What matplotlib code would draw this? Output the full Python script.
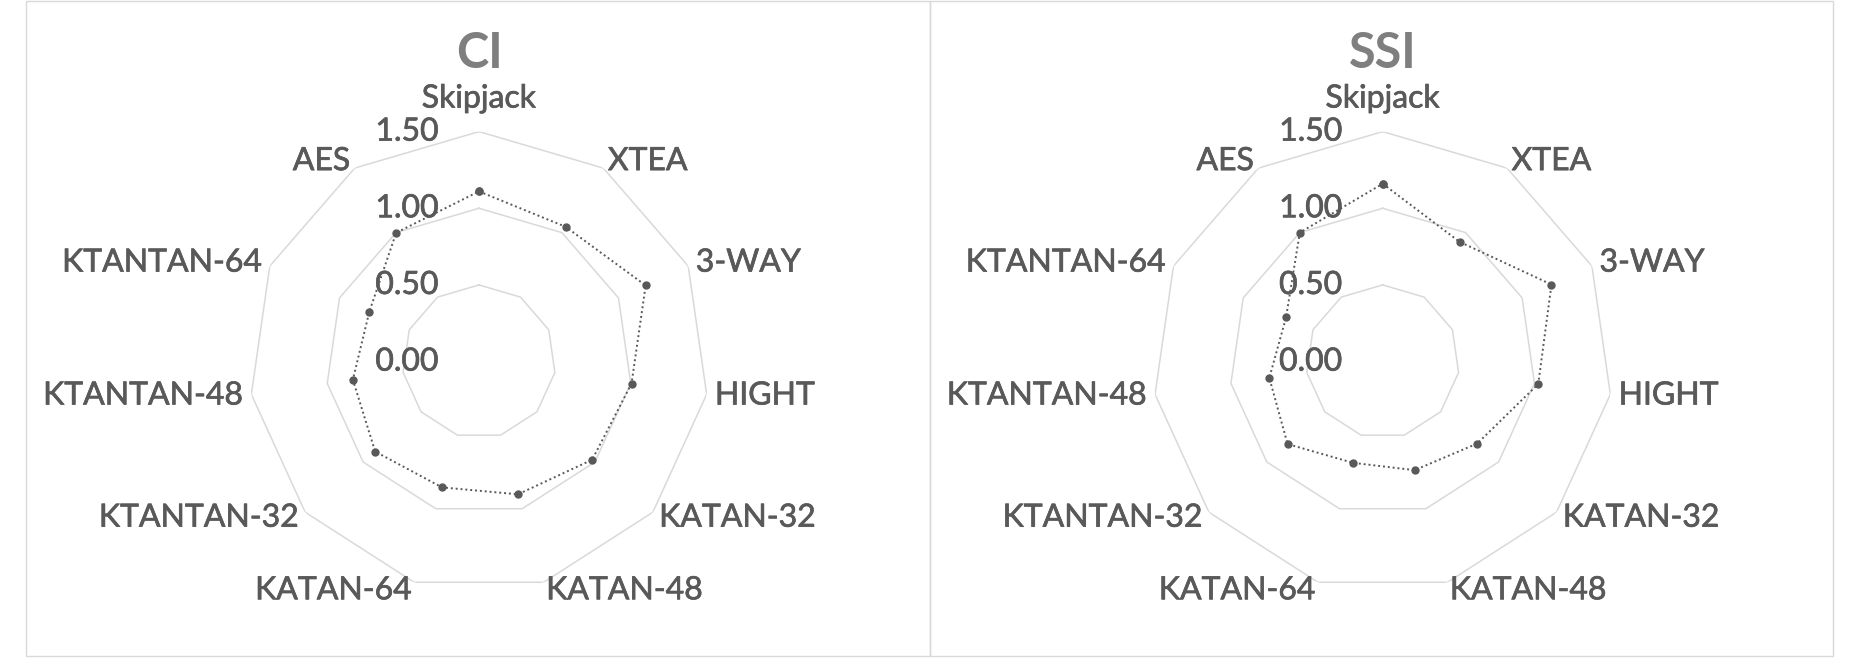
import numpy as np
import matplotlib.pyplot as plt
import matplotlib.patheffects as pe
from matplotlib.patches import Rectangle


CATEGORIES = [
    "Skipjack", "XTEA", "3-WAY", "HIGHT", "KATAN-32", "KATAN-48",
    "KATAN-64", "KTANTAN-32", "KTANTAN-48", "KTANTAN-64", "AES",
]
CI_VALUES = [1.11, 1.045, 1.195, 1.005, 0.977, 0.902, 0.855, 0.896, 0.831, 0.786, 0.999]
SSI_VALUES = [1.16, 0.928, 1.21, 1.025, 0.816, 0.738, 0.688, 0.821, 0.747, 0.693, 1.0]
RING_TICKS = [0.0, 0.5, 1.0, 1.5]
RING_LABELS = ["0.00", "0.50", "1.00", "1.50"]

TEXT_COLOR = "#595959"
TITLE_COLOR = "#7f7f7f"
GRID_COLOR = "#d9d9d9"
FONT = "Lato"

W, H = 1860, 660

# Lato is a bit thinner than the original font, so thicken the glyphs slightly
THICK = [pe.withStroke(linewidth=0.5, foreground=TEXT_COLOR)]


def plot_radar(ax, values, title):
    n = len(CATEGORIES)
    theta = np.linspace(0, 2 * np.pi, n, endpoint=False)
    theta_closed = np.append(theta, theta[0])

    ax.set_theta_zero_location("N")
    ax.set_theta_direction(-1)
    ax.set_ylim(0, RING_TICKS[-1])
    ax.set_xticks([])
    ax.set_yticks([])
    ax.grid(False)
    ax.spines["polar"].set_visible(False)
    ax.patch.set_alpha(0)

    # polygon rings (Excel style, no spokes)
    for r in RING_TICKS[1:]:
        ax.plot(theta_closed, [r] * (n + 1), color=GRID_COLOR, lw=1.1, zorder=1)

    vals = np.append(values, values[0])
    ax.plot(theta_closed, vals, color=TEXT_COLOR, lw=1.4, ls=(0, (1, 1.5)),
            marker="o", markersize=5, zorder=3, clip_on=False)

    # category labels just outside the outer ring
    rmax = RING_TICKS[-1]
    for t, lab in zip(theta, CATEGORIES):
        s, c = np.sin(t), np.cos(t)
        if abs(s) < 1e-6:
            ha, va, off = "center", "bottom", 13
        else:
            ha = "left" if s > 0 else "right"
            va, off = "center", 6
        ax.annotate(lab, xy=(t, rmax), xytext=(off * s, off * c),
                    textcoords="offset points", ha=ha, va=va,
                    fontsize=23, color=TEXT_COLOR, family=FONT,
                    path_effects=THICK, annotation_clip=False)

    # value axis labels, to the left of the vertical axis
    for r, lab in zip(RING_TICKS, RING_LABELS):
        ax.annotate(lab, xy=(0, r), xytext=(-29, 0), textcoords="offset points",
                    ha="right", va="center", fontsize=23, color=TEXT_COLOR,
                    family=FONT, path_effects=THICK, annotation_clip=False)

    ax.annotate(title, xy=(0.5, 1.0), xycoords="axes fraction", xytext=(0, 56),
                textcoords="offset points", ha="center", va="center",
                fontsize=35, fontweight="bold", color=TITLE_COLOR, family=FONT,
                annotation_clip=False)


fig = plt.figure(figsize=(W / 100, H / 100), dpi=100)

# panel frames
for x0, x1 in [(26, 930), (930, 1833)]:
    fig.patches.append(Rectangle((x0 / W, 4 / H), (x1 - x0) / W, 655 / H,
                                 transform=fig.transFigure, fill=False,
                                 edgecolor=GRID_COLOR, lw=1.0))

radius = 230
cy = 361.6
for cx, values, title in [(479, CI_VALUES, "CI"), (1382.7, SSI_VALUES, "SSI")]:
    ax = fig.add_axes([(cx - radius) / W, (H - cy - radius) / H,
                       2 * radius / W, 2 * radius / H], projection="polar")
    plot_radar(ax, values, title)

fig.savefig("out.png", dpi=100)
